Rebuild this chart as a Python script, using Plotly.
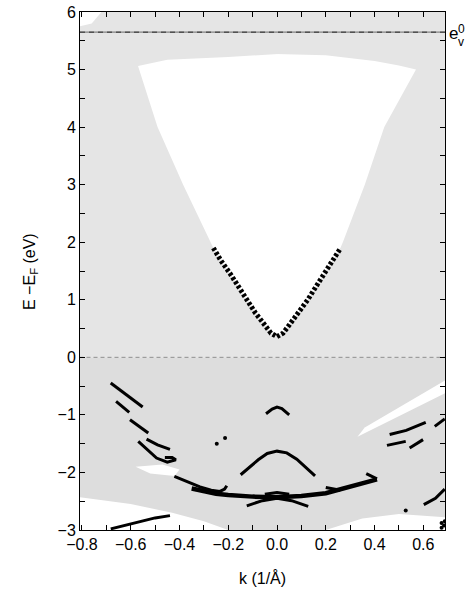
import plotly.graph_objects as go

# ---------------- data ----------------
# projected bulk bands (gray regions), boundaries in (k, E)
upper_left_k = [-0.81, -0.81, 0.005, 0.005, -0.2, -0.45, -0.57, -0.49, -0.385, -0.275, -0.261, -0.193, -0.126, -0.05, -0.02, 0.005, 0.005]
upper_left_E = [0.0, 6.0, 6.0, 5.27, 5.22, 5.17, 5.06, 4.0, 3.0, 2.0, 1.9, 1.46, 1.0, 0.57, 0.42, 0.36, 0.0]
upper_right_k = [-0.005, -0.005, 0.69, 0.69, -0.005, -0.005, 0.02, 0.05, 0.126, 0.193, 0.26, 0.27, 0.36, 0.44, 0.57, 0.5, 0.4, 0.2, -0.005]
upper_right_E = [5.27, 6.0, 6.0, 0.0, 0.0, 0.36, 0.42, 0.57, 1.0, 1.46, 1.9, 2.0, 3.0, 4.0, 5.0, 5.07, 5.15, 5.25, 5.27]
corner_k = [-0.81, -0.81, -0.76, -0.72]
corner_E = [6.0, 5.75, 5.8, 6.0]
lower_k = [-0.81, 0.69, 0.69, 0.5, 0.35, 0.2, -0.2, -0.3, -0.43, -0.6, -0.81]
lower_E = [0.0, 0.0, -2.78, -2.72, -2.8, -3.0, -3.0, -2.85, -2.7, -2.55, -2.43]
gap_right_k = [0.33, 0.69, 0.69, 0.36]
gap_right_E = [-1.38, -0.62, -0.40, -1.22]
gap_left_k = [-0.58, -0.47, -0.40, -0.42, -0.52]
gap_left_E = [-1.9, -1.86, -1.95, -2.06, -2.02]

# surface state (black) curves
V_left_k = [-0.261, -0.23, -0.193, -0.16, -0.126, -0.09, -0.05, -0.025, 0.0]
V_left_E = [1.90, 1.68, 1.46, 1.23, 1.0, 0.78, 0.56, 0.42, 0.36]
V_right_k = [0.0, 0.025, 0.05, 0.09, 0.126, 0.16, 0.193, 0.23, 0.261]
V_right_E = [0.36, 0.42, 0.56, 0.78, 1.0, 1.23, 1.46, 1.68, 1.90]

curves = {
    "A": ([-0.682, -0.617, -0.551], [-0.446, -0.65, -0.863]),
    "B1": ([-0.66, -0.606], [-0.765, -0.956]),
    "B2": ([-0.603, -0.528], [-1.083, -1.315]),
    "C": ([-0.535, -0.49, -0.439], [-1.42, -1.52, -1.60]),
    "D": ([-0.569, -0.53, -0.494, -0.45, -0.415, -0.43, -0.46], [-1.46, -1.62, -1.75, -1.82, -1.78, -1.74, -1.74]),
    "E": ([-0.421, -0.37, -0.316, -0.27, -0.234, -0.215, -0.206], [-2.07, -2.16, -2.25, -2.31, -2.33, -2.29, -2.23]),
    "main": ([-0.35, -0.3, -0.25, -0.2, -0.1, 0.0, 0.1, 0.2, 0.3, 0.41], [-2.28, -2.33, -2.37, -2.39, -2.42, -2.43, -2.41, -2.36, -2.24, -2.12]),
    "hookR": ([0.366, 0.41], [-2.02, -2.11]),
    "segR": ([0.2, 0.23, 0.26], [-2.26, -2.29, -2.31]),
    "archC": ([-0.05, 0.0, 0.05], [-2.38, -2.35, -2.38]),
    "archL": ([-0.124, -0.06, 0.0, 0.06, 0.128], [-2.58, -2.49, -2.45, -2.49, -2.59]),
    "archTop": ([-0.045, -0.02, 0.0, 0.02, 0.05], [-0.98, -0.90, -0.865, -0.89, -1.0]),
    "archMid": ([-0.149, -0.077, -0.04, 0.0, 0.04, 0.081, 0.156], [-2.04, -1.78, -1.67, -1.63, -1.66, -1.77, -2.06]),
    "F": ([-0.682, -0.6, -0.5, -0.439], [-2.98, -2.9, -2.79, -2.75]),
    "R1": ([0.462, 0.53, 0.61], [-1.34, -1.27, -1.13]),
    "R2": ([0.451, 0.49, 0.528], [-1.53, -1.50, -1.46]),
    "R3": ([0.544, 0.599], [-1.575, -1.43]),
    "R4": ([0.647, 0.688], [-1.2, -1.07]),
    "R5": ([0.602, 0.65, 0.688], [-2.56, -2.45, -2.29]),
}
dots_k = [-0.247, -0.213, 0.528, 0.675, 0.685, 0.675, 0.688]
dots_E = [-1.5, -1.40, -2.66, -2.88, -2.92, -2.96, -2.85]

vacuum_level = 5.65
x_ticks = [-0.8, -0.6, -0.4, -0.2, 0.0, 0.2, 0.4, 0.6]
x_tick_text = ["\u22120.8", "\u22120.6", "\u22120.4", "\u22120.2", "0.0", "0.2", "0.4", "0.6"]
y_ticks = [-3, -2, -1, 0, 1, 2, 3, 4, 5, 6]
y_tick_text = ["\u22123", "\u22122", "\u22121", "0", "1", "2", "3", "4", "5", "6"]

# ---------------- figure ----------------
fig = go.Figure()
gray_up = "#e5e5e5"
gray_lo = "#dddddd"
for kk, ee, col in [(upper_left_k, upper_left_E, gray_up), (upper_right_k, upper_right_E, gray_up),
                    (corner_k, corner_E, "white"),
                    (lower_k, lower_E, gray_lo), (gap_right_k, gap_right_E, "white"),
                    (gap_left_k, gap_left_E, "white")]:
    fig.add_trace(go.Scatter(x=kk, y=ee, mode="lines", fill="toself", fillcolor=col,
                             line=dict(width=0, color=col), hoverinfo="skip", showlegend=False))

# reference lines
fig.add_trace(go.Scatter(x=[-0.81, 0.69], y=[0, 0], mode="lines",
                         line=dict(color="#777777", width=0.8, dash="4px,3px"), showlegend=False))
fig.add_trace(go.Scatter(x=[-0.81, 0.69], y=[vacuum_level, vacuum_level], mode="lines",
                         line=dict(color="#222222", width=1.2, dash="6px,1px,1px,1px"), showlegend=False))

# V surface state (dotted)
for kk, ee in [(V_left_k, V_left_E), (V_right_k, V_right_E)]:
    fig.add_trace(go.Scatter(x=kk, y=ee, mode="lines",
                             line=dict(color="black", width=5, dash="3px,2px"), showlegend=False))

for name, (kk, ee) in curves.items():
    w = 4.5 if name == "main" else 3
    fig.add_trace(go.Scatter(x=kk, y=ee, mode="lines", line=dict(color="black", width=w),
                             showlegend=False))
fig.add_trace(go.Scatter(x=dots_k, y=dots_E, mode="markers",
                         marker=dict(color="black", size=4), showlegend=False))

FAM = "Liberation Sans, Arial, sans-serif"
font = dict(family=FAM, size=16, color="black")
fig.update_layout(
    width=466, height=591,
    margin=dict(l=80, r=21, t=12, b=61),
    paper_bgcolor="white", plot_bgcolor="white",
    font=font,
    xaxis=dict(range=[-0.808, 0.689], tickvals=x_ticks, ticktext=x_tick_text, automargin=False,
               ticks="inside", ticklen=5, tickcolor="black", showline=True, linecolor="black",
               linewidth=1, mirror="allticks", showgrid=False, zeroline=False,
               minor=dict(dtick=0.1, tick0=-0.8, ticks="inside", ticklen=5, tickcolor="black")),
    yaxis=dict(range=[-3, 6], tickvals=y_ticks, ticktext=y_tick_text, automargin=False,
               ticks="inside", ticklen=5, tickcolor="black", showline=True, linecolor="black",
               linewidth=1, mirror="allticks", showgrid=False, zeroline=False,
               minor=dict(dtick=0.5, tick0=0, ticks="inside", ticklen=5, tickcolor="black")),
)
# axis titles
fig.add_annotation(x=-0.137, y=0.5, xref="paper", yref="paper", text="E \u2212E<sub>F</sub> (eV)",
                   textangle=-90, showarrow=False, xanchor="center", yanchor="middle", font=font)
fig.add_annotation(x=0.5, y=-0.092, xref="paper", yref="paper", text="k (1/\u00c5)",
                   showarrow=False, xanchor="center", yanchor="middle", font=font)
# vacuum level label
fig.add_annotation(x=1.022, y=5.62, xref="paper", yref="y", text="e", showarrow=False,
                   xanchor="center", yanchor="middle", font=dict(family=FAM, size=17, color="black"))
fig.add_annotation(x=1.044, y=5.71, xref="paper", yref="y", text="0", showarrow=False,
                   xanchor="center", yanchor="middle", font=dict(family=FAM, size=12, color="black"))
fig.add_annotation(x=1.044, y=5.48, xref="paper", yref="y", text="v", showarrow=False,
                   xanchor="center", yanchor="middle", font=dict(family=FAM, size=12, color="black"))

fig.write_html("out.html", config={"displayModeBar": False},
               post_script="document.body.style.margin='0';document.body.style.padding='0';document.body.style.overflow='hidden';")
